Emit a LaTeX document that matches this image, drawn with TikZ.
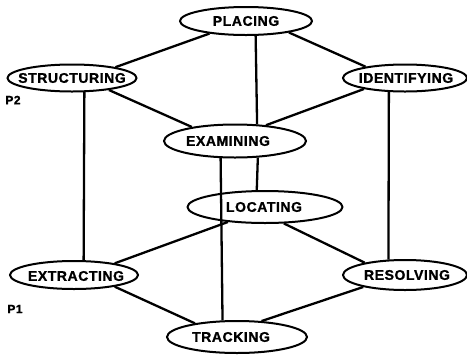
\documentclass[tikz,border=0pt]{standalone}
\usepackage{fontspec}
\setmainfont{Liberation Sans}[LetterSpace=4, FakeBold=1.2]
\usetikzlibrary{shapes.geometric}

\begin{document}
\begin{tikzpicture}[x=1pt, y=-1pt,
  stage/.style={ellipse, draw, line width=2pt, inner sep=0pt},
  words/.style={inner sep=0pt, font=\bfseries\fontsize{14}{15}\selectfont},
  link/.style={line width=2.3pt},
  plane/.style={inner sep=0pt, font=\bfseries\fontsize{12}{13}\selectfont}]
\useasboundingbox (0,0) rectangle (467,357);

% upper plane
\node[stage, minimum width=132pt, minimum height=28pt, label={[words]center:PLACING}] (placing) at (246,21) {};
\node[stage, minimum width=129pt, minimum height=27pt, label={[words]center:STRUCTURING}] (structuring) at (72,78) {};
\node[stage, minimum width=124pt, minimum height=27pt, label={[words, xshift=1pt]center:IDENTIFYING}] (identifying) at (405,78) {};
\node[stage, minimum width=142pt, minimum height=33pt, label={[words, xshift=-7pt]center:EXAMINING}] (examining) at (235,141) {};

% lower plane
\node[stage, minimum width=155pt, minimum height=32pt, label={[words, xshift=-1pt]center:LOCATING}] (locating) at (265,207) {};
\node[stage, minimum width=128pt, minimum height=28pt, label={[words, xshift=2pt, yshift=-1pt]center:EXTRACTING}] (extracting) at (74,275) {};
\node[stage, minimum width=124pt, minimum height=30pt, label={[words, xshift=2pt]center:RESOLVING}] (resolving) at (405,275) {};
\node[stage, minimum width=140pt, minimum height=32pt, label={[words, xshift=-6pt]center:TRACKING}] (tracking) at (237,337) {};

% plane labels
\node[plane] (p2) at (13,100) {P2};
\node[plane] (p1) at (15,309) {P1};

% connections within the upper plane
\draw[link] (placing.199.7) -- (structuring.14.3);
\draw[link] (placing.-15.3) -- (identifying.164.5);
\draw[link] (placing.-57.3) -- (examining.37);
\draw[link] (structuring.-18) -- (examining.162.8);
\draw[link] (identifying.195) -- (examining.27.4);

% connections between the planes
\draw[link] (structuring.-49.8) -- (extracting.57.3);
\draw[link] (identifying.221) -- (resolving.137);
\draw[link] (examining.-36) -- (locating.116.6);
\draw[link] (examining.230.9) -- (tracking.131.2);

% connections within the lower plane
\draw[link] (locating.202.8) -- (extracting.16.9);
\draw[link] (locating.-41.8) -- (resolving.163.2);
\draw[link] (extracting.-16.8) -- (tracking.162);
\draw[link] (resolving.196.1) -- (tracking.33.7);
\end{tikzpicture}
\end{document}
